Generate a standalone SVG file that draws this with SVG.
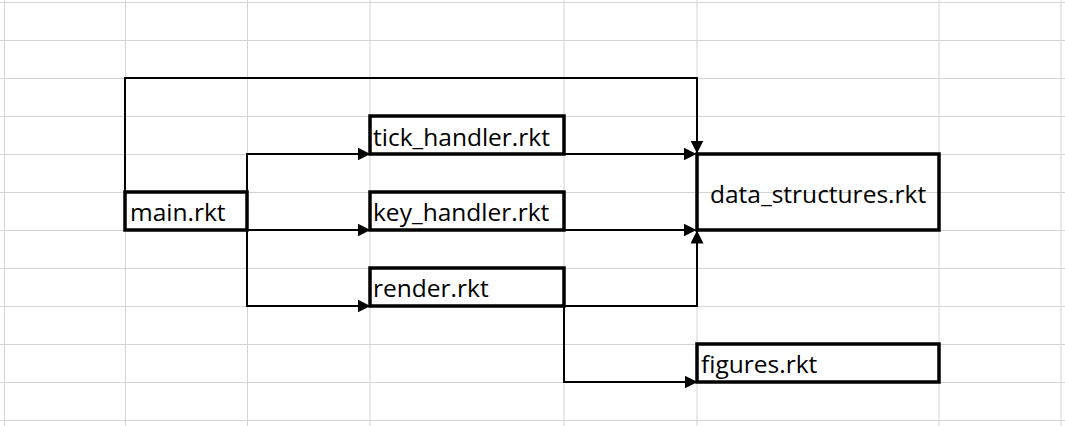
<svg xmlns="http://www.w3.org/2000/svg" width="1065" height="426" viewBox="0 0 1065 426">
<style>
.grid{stroke:#d4d4d4;stroke-width:1;fill:none}
.box{fill:none;stroke:#000;stroke-width:3.5}
.conn{fill:none;stroke:#000;stroke-width:2}
.lbl{font-family:"Open Sans","Noto Sans",sans-serif;font-size:24.5px;fill:#000}
</style>
<defs>
<marker id="arr" markerUnits="userSpaceOnUse" markerWidth="13" markerHeight="13" viewBox="0 0 13 13" refX="12.5" refY="6.5" orient="auto">
<path d="M0,0 L13,6.5 L0,13 z" fill="#000"/>
</marker>
</defs>
<rect width="1065" height="426" fill="#fff"/>
<g id="grid" class="grid">
<path d="M0,2.5H1065M0,40.5H1065M0,78.5H1065M0,116.5H1065M0,154.5H1065M0,192.5H1065M0,230.5H1065M0,268.5H1065M0,306.5H1065M0,344.5H1065M0,382.5H1065M0,420.5H1065"/>
<path d="M4.5,0V426M125.5,0V426M247.5,0V426M370,0V426M564,0V426M697,0V426M939,0V426M1061,0V426"/>
</g>
<g id="connectors">
<path class="conn" d="M125,192 V78 H697 V153" marker-end="url(#arr)"/>
<path class="conn" d="M247,192 V154 H370" marker-end="url(#arr)"/>
<path class="conn" d="M247,230 H370" marker-end="url(#arr)"/>
<path class="conn" d="M247,230 V306 H370" marker-end="url(#arr)"/>
<path class="conn" d="M564,154 H696" marker-end="url(#arr)"/>
<path class="conn" d="M564,230 H696" marker-end="url(#arr)"/>
<path class="conn" d="M564,306 H697 V231" marker-end="url(#arr)"/>
<path class="conn" d="M564,306 V382 H697" marker-end="url(#arr)"/>
</g>
<g id="main">
<rect class="box" x="125" y="192" width="122" height="38"/>
<text class="lbl" x="130" y="221">main.rkt</text>
</g>
<g id="tick_handler">
<rect class="box" x="370" y="116" width="194" height="38"/>
<text class="lbl" x="373" y="146">tick_handler.rkt</text>
</g>
<g id="key_handler">
<rect class="box" x="370" y="192" width="194" height="38"/>
<text class="lbl" x="373" y="221">key_handler.rkt</text>
</g>
<g id="render">
<rect class="box" x="370" y="268" width="194" height="38"/>
<text class="lbl" x="373" y="297">render.rkt</text>
</g>
<g id="data_structures">
<rect class="box" x="697" y="154" width="242" height="76"/>
<text class="lbl" x="710" y="203">data_structures.rkt</text>
</g>
<g id="figures">
<rect class="box" x="697" y="344" width="242" height="38"/>
<text class="lbl" x="701" y="373">figures.rkt</text>
</g>
</svg>
